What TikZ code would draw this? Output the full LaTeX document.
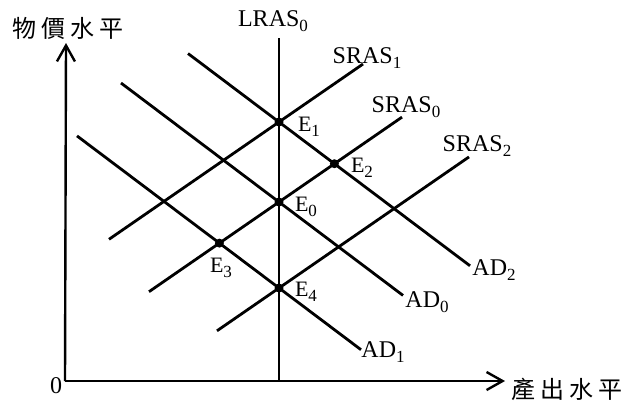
\documentclass[tikz,border=0pt]{standalone}
\usepackage{fontspec}
\setmainfont{Liberation Serif}
\newfontfamily\cjk{Noto Sans CJK TC}
\usetikzlibrary{arrows.meta}
\newcommand{\lsub}[1]{\raisebox{-0.5ex}{\fontsize{8.5}{9}\selectfont #1}}

\tikzset{
  curve/.style={line width=1.4pt},
  axis/.style={line width=1.2pt, -{Straight Barb[length=8pt,width=9pt,line width=1.2pt]}},
  eqpt/.style={circle, fill, inner sep=0pt, minimum size=4.5pt},
  lbl/.style={font=\fontsize{12}{14}\selectfont, inner sep=0pt},
  elbl/.style={font=\fontsize{11}{13}\selectfont, inner sep=0pt},
  axlbl/.style={font=\cjk\fontsize{12}{14}\selectfont, inner sep=0pt}
}

\begin{document}
\begin{tikzpicture}[x=0.5pt, y=-0.5pt]
    \useasboundingbox (0,0) rectangle (624,404);

    % axes
    \coordinate (O) at (65,381);
    \coordinate (ytop) at (66,43);
    \coordinate (xend) at (505,381);
    \draw[axis] (O) -- (ytop);
    \draw[axis] (O) -- (xend);
    \node[axlbl] (ylab) at (68,28) {物\hspace{2.5pt}價\hspace{2.5pt}水\hspace{2.5pt}平};
    \node[axlbl] (xlab) at (567,389) {產\hspace{2.5pt}出\hspace{2.5pt}水\hspace{2.5pt}平};
    \node[lbl] (zero) at (56,386) {0};

    % long run supply
    \coordinate (lras-t) at (279,38);
    \coordinate (lras-b) at (279,381);
    \draw[curve] (lras-t) -- (lras-b);
    \node[lbl] (llras) at (273,21) {LRAS\lsub{0}};

    % demand curves
    \coordinate (ad2-s) at (188,53.5);   \coordinate (ad2-e) at (470,265.8);
    \coordinate (ad0-s) at (121,83.0);   \coordinate (ad0-e) at (403,295.4);
    \coordinate (ad1-s) at (77,135.9);   \coordinate (ad1-e) at (361,349.7);
    \draw[curve] (ad2-s) -- (ad2-e);
    \draw[curve] (ad0-s) -- (ad0-e);
    \draw[curve] (ad1-s) -- (ad1-e);
    \node[lbl] (lad2) at (494,270) {AD\lsub{2}};
    \node[lbl] (lad0) at (427,302) {AD\lsub{0}};
    \node[lbl] (lad1) at (383,352) {AD\lsub{1}};

    % short run supply curves
    \coordinate (sr1-s) at (109,239.3);  \coordinate (sr1-e) at (363,64.0);
    \coordinate (sr0-s) at (149,291.7);  \coordinate (sr0-e) at (402,117.1);
    \coordinate (sr2-s) at (217,330.8);  \coordinate (sr2-e) at (469,156.9);
    \draw[curve] (sr1-s) -- (sr1-e);
    \draw[curve] (sr0-s) -- (sr0-e);
    \draw[curve] (sr2-s) -- (sr2-e);
    \node[lbl] (lsr1) at (367,58) {SRAS\lsub{1}};
    \node[lbl] (lsr0) at (406,107) {SRAS\lsub{0}};
    \node[lbl] (lsr2) at (477,146) {SRAS\lsub{2}};

    % equilibria
    \node[eqpt] (E1) at (279,122) {};
    \node[eqpt] (E0) at (279,202) {};
    \node[eqpt] (E4) at (279,288) {};
    \node[eqpt] (E2) at (334.4,163.7) {};
    \node[eqpt] (E3) at (219.4,243.1) {};
    \node[elbl] (lE1) at (309,127) {E\lsub{1}};
    \node[elbl] (lE0) at (306,207) {E\lsub{0}};
    \node[elbl] (lE4) at (306,292) {E\lsub{4}};
    \node[elbl] (lE2) at (362,168) {E\lsub{2}};
    \node[elbl] (lE3) at (221,268) {E\lsub{3}};

\end{tikzpicture}
\end{document}
